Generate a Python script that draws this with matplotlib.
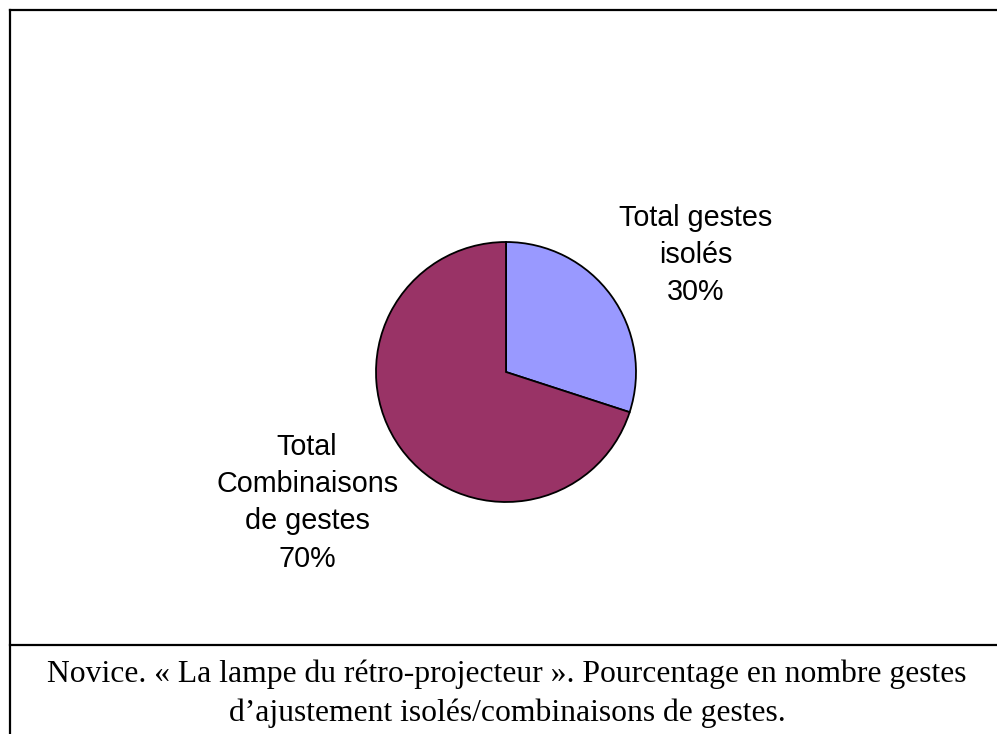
import matplotlib.pyplot as plt
from matplotlib.lines import Line2D

labels = ["Total gestes\nisolés", "Total\nCombinaisons\nde gestes"]
values = [30, 70]
colors = ["#9999FF", "#993366"]
caption = ("Novice. « La lampe du rétro-projecteur ». Pourcentage en nombre gestes\n"
           "d’ajustement isolés/combinaisons de gestes.")

W, H = 997, 734
fig = plt.figure(figsize=(W / 100, H / 100), dpi=100)


def px(x, y):
    # pixel coords (top-left origin) -> figure fraction
    return x / W, 1 - y / H


# cadre
for (x0, y0), (x1, y1) in [((10, 10), (997, 10)), ((10, 10), (10, 734)), ((10, 645), (997, 645))]:
    a, b = px(x0, y0)
    c, d = px(x1, y1)
    fig.add_artist(Line2D([a, c], [b, d], color="black", lw=1.6, transform=fig.transFigure))

# camembert
cx, cy, r = 506, 372, 130
ax = fig.add_axes([(cx - r) / W, 1 - (cy + r) / H, 2 * r / W, 2 * r / H])
wedges, _ = ax.pie(values, colors=colors, startangle=90, counterclock=False, radius=1,
                   wedgeprops=dict(edgecolor="black", linewidth=1.3))
ax.set_xlim(-1, 1)
ax.set_ylim(-1, 1)
ax.set_aspect("equal")
ax.axis("off")

total = sum(values)
positions = [(1.46, 0.90), (-1.53, -1.005)]
for lab, v, (tx, ty) in zip(labels, values, positions):
    ax.text(tx, ty, f"{lab}\n{round(100 * v / total)}%", ha="center", va="center",
            fontsize=20.7, family="Liberation Sans", linespacing=1.42)

# légende
fx, fy = px(507, 694)
fig.text(fx, fy, caption, ha="center", va="center", fontsize=22.8,
         family="Liberation Serif", linespacing=1.42)

fig.savefig("out.png", dpi=100)
